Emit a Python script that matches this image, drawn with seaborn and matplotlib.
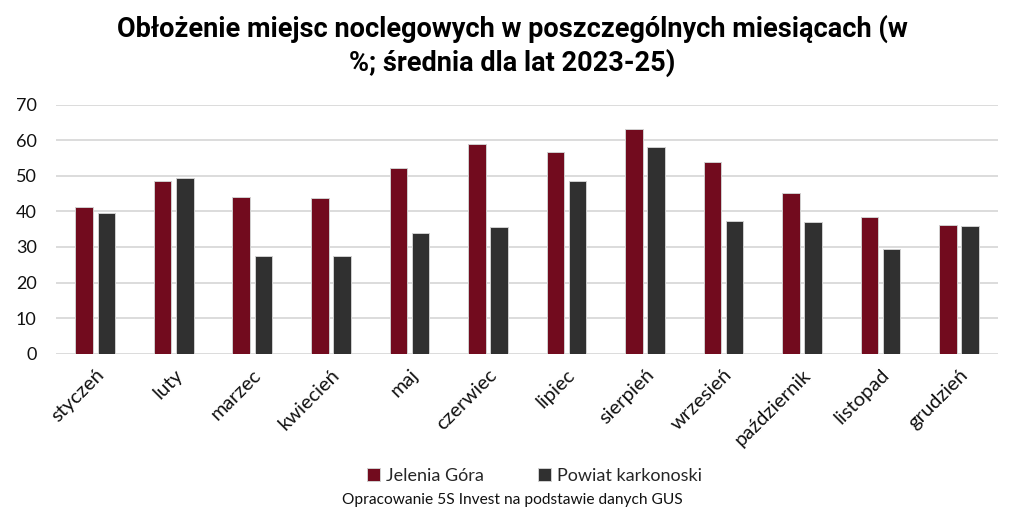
import matplotlib
matplotlib.use("Agg")
import matplotlib.pyplot as plt
import seaborn as sns
import pandas as pd

months = ["styczeń", "luty", "marzec", "kwiecień", "maj", "czerwiec",
          "lipiec", "sierpień", "wrzesień", "październik", "listopad", "grudzień"]
jelenia_gora = [41.1, 48.6, 44.0, 43.8, 52.3, 58.9, 56.6, 63.1, 53.8, 45.2, 38.3, 36.3]
powiat_karkonoski = [39.5, 49.3, 27.6, 27.6, 34.0, 35.7, 48.5, 58.1, 37.4, 37.1, 29.4, 35.8]
series_names = ["Jelenia Góra", "Powiat karkonoski"]
colors = ["#720b1e", "#303030"]

df = pd.DataFrame({
    "month": months * 2,
    "value": jelenia_gora + powiat_karkonoski,
    "series": [series_names[0]] * 12 + [series_names[1]] * 12,
})

sns.set_theme(style="white")
plt.rcParams["font.family"] = ["Lato", "DejaVu Sans"]

fig = plt.figure(figsize=(10.24, 5.2), dpi=100)
ax = fig.add_axes([0.0547, 0.3198, 0.9203, 0.4789])

sns.barplot(data=df, x="month", y="value", hue="series", order=months,
            hue_order=series_names, palette=colors, saturation=1, width=0.566, gap=0.21,
            edgecolor="#d0d0d0", linewidth=0.7, ax=ax, legend=True, zorder=3)

ax.set_ylim(0, 70)
ax.set_xlim(-0.5, 11.5)
ax.set_yticks(range(0, 71, 10))
ax.yaxis.grid(True, color="#d9d9d9", linewidth=1.3, zorder=0)
ax.set_axisbelow(True)
for s in ax.spines.values():
    s.set_visible(False)
ax.set_xlabel("")
ax.set_ylabel("")
ax.tick_params(axis="both", length=0)
ax.tick_params(axis="y", labelsize=13, colors="#111111", pad=14)
ax.tick_params(axis="x", pad=9)
for lab in ax.get_xticklabels():
    lab.set_rotation(45)
    lab.set_ha("right")
    lab.set_rotation_mode("anchor")
    lab.set_fontsize(14.5)
    lab.set_color("#111111")

ax.legend_.remove()
handles = [plt.Rectangle((0, 0), 1, 1, facecolor=c, edgecolor="#d0d0d0", linewidth=0.7) for c in colors]
fig.legend(handles, series_names, loc="center", bbox_to_anchor=(0.522, 0.085),
           ncol=2, frameon=False, fontsize=13, handlelength=0.7, handleheight=0.7,
           handletextpad=0.35, columnspacing=3.0)

fig.text(0.5, 0.038, "Opracowanie 5S Invest na podstawie danych GUS",
         ha="center", va="center", fontsize=11.2, color="#111111")

fig.text(0.5, 0.912, "Obłożenie miejsc noclegowych w poszczególnych miesiącach (w\n%; średnia dla lat 2023-25)",
         ha="center", va="center", fontsize=19.5, fontweight="bold",
         family=["Roboto", "DejaVu Sans"], linespacing=1.25, color="#000000")

fig.savefig("out.png", dpi=100)
